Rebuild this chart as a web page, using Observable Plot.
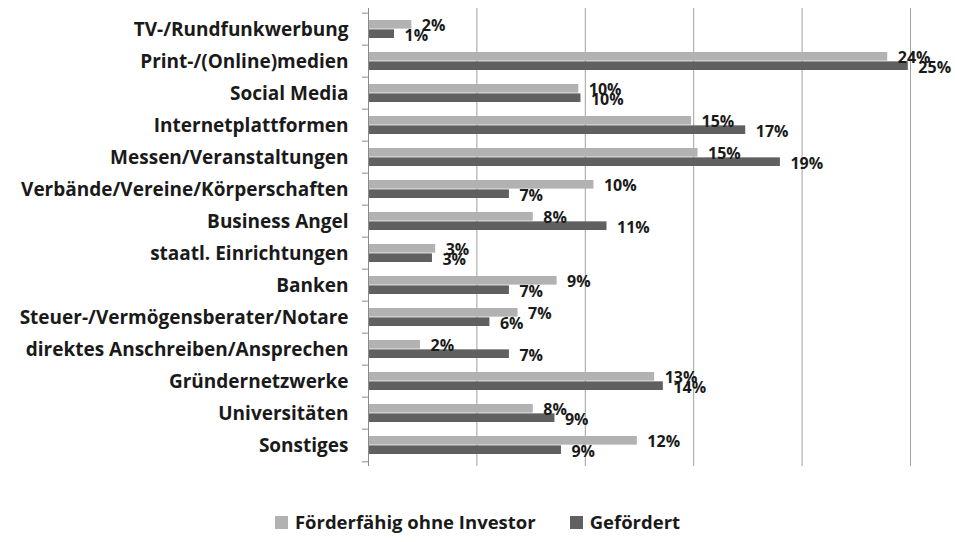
<!DOCTYPE html>
<html><head><meta charset="utf-8">
<script src="https://cdn.jsdelivr.net/npm/d3@7"></script>
<script src="https://cdn.jsdelivr.net/npm/@observablehq/plot@0.6"></script>
<style>
body{margin:0;background:#fff;font-family:"Open Sans",sans-serif;}
#legend{display:flex;justify-content:center;align-items:center;gap:34px;height:42px;font-weight:bold;font-size:18.5px;color:#1a1a1a;}
#legend span.sw{display:inline-block;width:13px;height:13px;margin-right:7px;vertical-align:0px;}
</style></head>
<body>
<div id="chart"></div>
<div id="legend"></div>
<script>
const categories = ["TV-/Rundfunkwerbung","Print-/(Online)medien","Social Media","Internetplattformen","Messen/Veranstaltungen","Verbände/Vereine/Körperschaften","Business Angel","staatl. Einrichtungen","Banken","Steuer-/Vermögensberater/Notare","direktes Anschreiben/Ansprechen","Gründernetzwerke","Universitäten","Sonstiges"];
const seriesNames = ["Förderfähig ohne Investor","Gefördert"];
const foerderfaehig = [2.0,23.95,9.7,14.9,15.2,10.4,7.6,3.1,8.7,6.9,2.4,13.2,7.6,12.4];
const gefoerdert = [1.2,24.9,9.8,17.4,19.0,6.5,11.0,2.95,6.5,5.6,6.5,13.6,8.6,8.9];
const gridTicks = [5,10,15,20,25];
const colors = ["#b2b2b2","#606060"];

const W = 955, H = 500, mT = 8, mB = 34, mL = 368, mR = 45;
const bw = (H - mT - mB) / categories.length;
const pad = 7;

const light = categories.map((c,i)=>({cat:c, v:foerderfaehig[i]}));
const dark = categories.map((c,i)=>({cat:c, v:gefoerdert[i]}));
const fmt = d => Math.round(d.v) + "%";
const textStyle = {fontSize: 16, fontWeight: "bold", fill: "#1a1a1a", fontFamily: "'Open Sans', sans-serif"};

const chart = Plot.plot({
  width: W, height: H,
  marginTop: mT, marginBottom: mB, marginLeft: mL, marginRight: mR,
  x: {domain: [0, 25], axis: null},
  y: {domain: categories, padding: 0, label: null},
  style: {fontFamily: "'Open Sans', sans-serif", background: "#fff"},
  marks: [
    Plot.gridX(gridTicks, {stroke: "#a0a0a0", strokeOpacity: 1}),
    Plot.barX(light, {x: "v", y: "cat", fill: colors[0], insetTop: pad, insetBottom: bw/2}),
    Plot.barX(dark, {x: "v", y: "cat", fill: colors[1], insetTop: bw/2, insetBottom: pad}),
    Plot.ruleX([0], {stroke: "#8a8a8a"}),
    Plot.ruleY(categories, {y: d=>d, x1: 0, x2: 0, insetLeft: -6, dy: -bw/2, stroke: "#8a8a8a"}),
    Plot.ruleY(categories.slice(-1), {y: d=>d, x1: 0, x2: 0, insetLeft: -6, dy: bw/2, stroke: "#8a8a8a"}),
    Plot.text(light, {x: "v", y: "cat", text: fmt, textAnchor: "start", dx: 10, dy: -(bw/2 - pad)/2 + 1, ...textStyle}),
    Plot.text(dark, {x: "v", y: "cat", text: fmt, textAnchor: "start", dx: 10, dy: (bw/2 - pad)/2 + 2, ...textStyle}),
    Plot.axisY({tickSize: 0, tickPadding: 20, fontSize: 19, fontWeight: "bold", fill: "#1a1a1a", label: null})
  ]
});
document.getElementById("chart").appendChild(chart);

const lg = document.getElementById("legend");
seriesNames.forEach((n,i)=>{
  const item = document.createElement("div");
  const sw = document.createElement("span");
  sw.className = "sw"; sw.style.background = colors[i];
  item.appendChild(sw);
  item.appendChild(document.createTextNode(n));
  lg.appendChild(item);
});
</script>
</body></html>
